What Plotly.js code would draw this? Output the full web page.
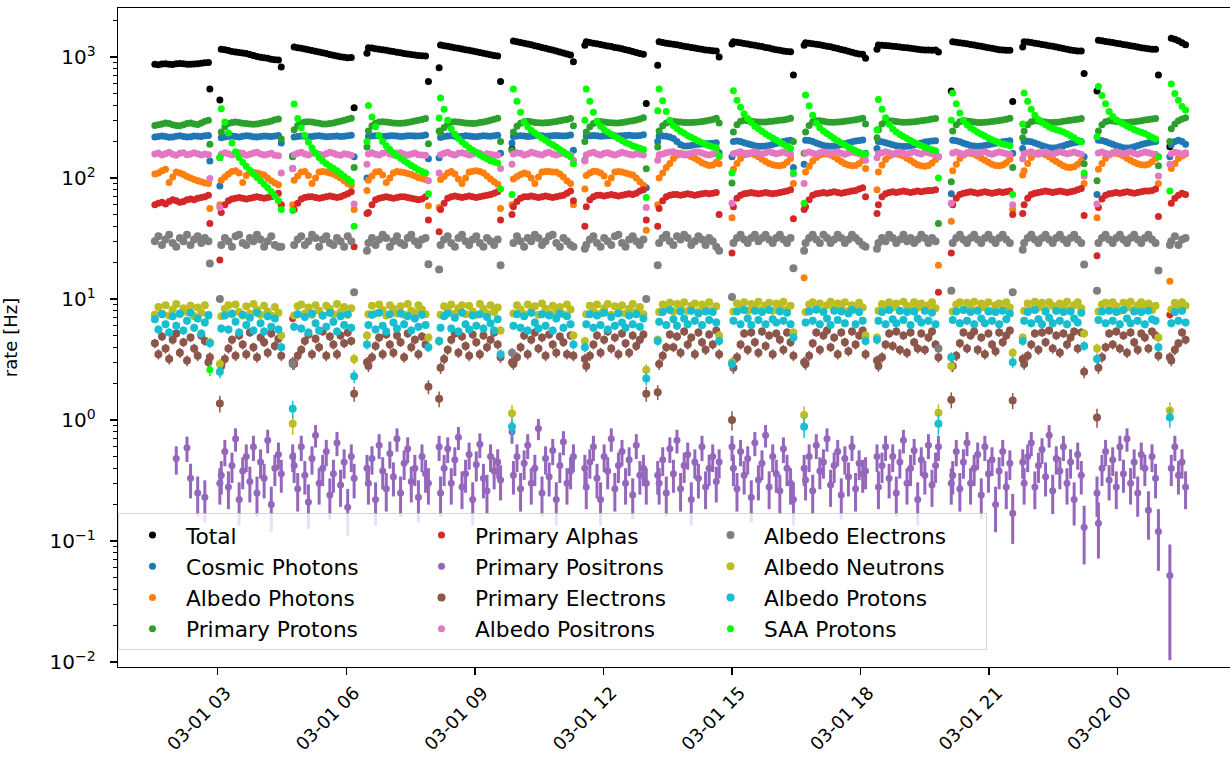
<!DOCTYPE html>
<html><head><meta charset="utf-8">
<script src="https://cdn.plot.ly/plotly-3.0.1.min.js"></script>
<style>html,body{margin:0;padding:0;background:#fff}#chart{width:1230px;height:759px}</style>
</head><body><div id="chart"></div>
<script>
// sample times, minutes after 03-01 00:00 (one line per orbit segment)
const minutes = [
92,97,102,107,112,117,122,127,132,137,142,147,152,157,162,167,169,
183,185,190,195,200,205,210,215,220,225,230,235,240,245,250,255,260,265,269,
285,287,292,297,302,307,312,317,322,327,332,337,342,347,352,357,362,367,371,
389,391,396,401,406,411,416,421,426,431,436,441,446,451,456,461,466,471,475,
490,492,497,502,507,512,517,522,527,532,537,542,547,552,557,562,567,572,576,
592,594,599,604,609,614,619,624,629,634,639,644,649,654,659,664,669,674,678,
694,696,701,706,711,716,721,726,731,736,741,746,751,756,761,766,771,776,780,
796,798,803,808,813,818,823,828,833,838,843,848,853,858,863,868,873,878,882,
900,902,907,912,917,922,927,932,937,942,947,952,957,962,967,972,977,982,986,
1001,1003,1008,1013,1018,1023,1028,1033,1038,1043,1048,1053,1058,1063,1068,1073,1078,1083,1087,
1103,1105,1110,1115,1120,1125,1130,1135,1140,1145,1150,1155,1160,1165,1170,1175,1180,1185,1189,
1207,1209,1214,1219,1224,1229,1234,1239,1244,1249,1254,1259,1264,1269,1274,1279,1284,1289,1293,
1307,1309,1314,1319,1324,1329,1334,1339,1344,1349,1354,1359,1364,1369,1374,1379,1384,1389,1393,
1411,1413,1418,1423,1428,1433,1438,1443,1448,1453,1458,1463,1468,1473,1478,1483,1488,1493,1497,
1513,1515,1520,1525,1530,1535];

const total = [
870,865,875,880,872,868,878,885,880,872,870,875,880,890,895,900,545,
441,1160,1150,1130,1110,1100,1090,1080,1070,1050,1030,1010,995,985,975,960,950,945,827,
152,1210,1195,1180,1165,1150,1130,1115,1100,1085,1070,1050,1035,1020,1005,995,985,990,380,
1073,1195,1185,1170,1160,1150,1135,1120,1110,1095,1085,1070,1060,1050,1040,1030,1025,1020,626,
816,1256,1240,1225,1210,1195,1180,1165,1150,1135,1120,1105,1090,1075,1060,1045,1030,1020,626,
174,1355,1340,1320,1300,1280,1260,1240,1220,1200,1180,1160,1140,1120,1100,1080,1060,1040,915,
1250,1338,1320,1300,1285,1270,1250,1235,1220,1200,1185,1170,1150,1130,1110,1090,1070,1052,412,
855,1338,1320,1300,1290,1275,1260,1245,1230,1215,1200,1185,1170,1160,1145,1135,1125,1120,1000,
1280,1338,1325,1310,1295,1280,1265,1250,1235,1220,1200,1185,1165,1150,1135,1120,1110,1105,710,
1250,1313,1300,1290,1275,1260,1245,1230,1215,1195,1175,1155,1135,1115,1095,1075,1060,1052,975,
1158,1256,1250,1245,1240,1230,1220,1210,1200,1190,1180,1170,1160,1150,1145,1140,1138,1140,1100,
524,1338,1325,1310,1300,1285,1270,1255,1240,1225,1210,1195,1180,1165,1150,1140,1135,1138,428,
1209,1338,1330,1315,1300,1285,1270,1255,1240,1225,1210,1195,1175,1160,1145,1130,1120,1120,729,
524,1373,1360,1345,1330,1315,1300,1285,1270,1255,1240,1225,1210,1195,1180,1170,1160,1158,710,
181,1427,1400,1360,1310,1260];

const cosmicPhotons = [
218,220,222,220,217,218,221,223,220,218,219,222,221,220,223,225,138,
86,215,218,220,222,220,218,221,224,222,219,218,220,222,221,220,222,225,195,
120,218,220,222,221,219,220,222,223,221,219,220,221,222,220,221,223,226,150,
100,220,222,224,222,220,221,223,224,222,220,221,223,224,222,222,224,227,144,
147,216,220,222,223,221,219,221,223,222,220,219,221,223,222,221,223,226,160,
195,220,222,224,222,220,221,223,225,223,221,222,224,225,223,222,224,227,170,
140,222,224,225,223,221,222,224,225,223,222,223,225,226,224,223,225,228,83,
200,222,222,221,218,212,200,188,184,184,186,188,190,191,192,193,194,196,162,
150,200,202,200,196,192,188,185,183,183,184,186,189,193,197,200,203,205,122,
130,205,204,200,195,190,186,184,183,184,186,189,192,196,199,202,204,206,160,
175,200,199,196,192,188,185,183,182,183,185,188,191,195,198,200,202,203,150,
74,205,203,199,194,190,186,184,183,184,186,188,191,194,197,199,201,203,160,
175,200,201,199,195,190,185,181,178,177,178,181,185,189,193,196,198,200,150,
73,205,204,200,195,190,185,181,178,177,178,181,185,189,193,196,198,200,150,
150,188,200,205,200,190];

const albedoPhotons = [
108,110,115,118,92,102,112,110,107,103,100,97,95,93,91,90,56,
60,96,102,108,113,115,110,92,105,112,111,110,108,106,100,95,91,88,60,
60,96,104,112,113,105,90,100,112,113,112,110,108,104,100,95,90,87,55,
79,96,104,112,113,106,92,100,110,113,112,111,109,107,104,101,99,97,59,
57,97,103,110,113,108,98,90,100,112,114,115,113,110,104,98,93,89,56,
60,98,103,107,110,108,100,90,102,112,113,113,112,112,108,102,95,90,60,
81,105,110,114,113,110,104,90,100,112,113,112,110,108,106,100,93,87,37,
60,100,110,122,132,145,155,160,158,155,150,146,140,134,130,127,128,135,131,
47,118,132,145,156,160,160,156,150,143,137,132,129,127,126,128,135,145,90,
15,112,125,138,148,155,158,158,155,150,143,137,131,128,126,127,132,140,120,
80,112,128,142,152,157,158,156,152,146,140,134,129,126,125,127,133,142,19,
44,115,130,145,155,160,160,157,152,146,140,135,130,127,126,128,134,143,55,
106,115,132,148,158,162,160,156,150,143,137,131,126,123,122,124,130,138,90,
47,118,132,146,156,160,160,157,152,146,140,135,131,129,128,130,136,145,90,
14,120,132,145,152,158];

const primaryProtons = [
272,275,280,285,282,276,272,270,275,282,285,280,277,285,295,300,190,
147,240,265,282,288,290,287,284,282,280,278,280,284,287,290,296,303,308,210,
150,250,272,285,290,292,290,286,283,280,280,282,285,290,295,300,306,312,122,
180,245,270,283,290,292,290,287,285,284,283,285,288,292,296,300,305,310,192,
245,235,262,280,290,292,290,288,285,283,282,284,287,291,295,300,306,312,200,
170,240,268,284,292,295,292,288,286,285,286,288,290,293,297,301,305,310,270,
200,240,265,282,290,293,291,288,286,285,285,287,290,294,298,302,308,315,119,
180,245,270,285,292,294,292,290,288,287,287,289,291,293,296,300,305,312,285,
91,240,275,295,300,298,295,292,290,290,291,293,295,298,300,302,306,312,200,
160,240,272,292,298,297,294,291,289,289,290,292,294,297,300,303,307,312,280,
215,250,280,294,298,296,293,290,289,289,290,292,294,297,300,303,307,310,42,
93,245,275,292,297,296,293,290,288,288,289,291,293,296,299,302,306,312,122,
215,245,275,292,297,296,293,290,288,288,289,291,294,297,300,303,306,310,131,
95,245,275,292,297,296,293,290,288,288,290,292,295,298,301,304,307,310,126,
200,255,280,297,308,315];

const primaryAlphas = [
60,62,63,61,64,66,65,63,64,66,67,66,68,69,70,72,42,
21,52,60,65,67,68,69,68,67,68,69,70,69,68,69,70,72,75,60,
6.9,55,62,67,69,70,70,69,68,69,70,71,70,69,70,72,74,77,27,
51,52,60,66,68,69,70,69,68,69,70,70,69,68,67,66,67,70,45,
36,55,62,68,70,71,70,69,70,71,70,69,70,71,72,73,75,77,45,
50,58,64,68,70,70,71,70,69,70,71,70,69,70,71,72,75,78,65,
40,58,66,70,72,72,71,72,73,72,71,72,73,74,73,75,78,80,45,
40,56,65,70,72,73,73,72,73,74,73,72,73,74,75,74,75,76,50,
24,58,68,72,74,75,76,75,74,75,76,75,74,75,76,77,78,80,46,
55,58,66,72,74,75,76,75,76,77,76,75,76,77,78,79,81,83,70,
51,60,70,74,76,77,76,77,78,77,76,77,78,77,78,79,79,80,11.4,
24,60,68,73,75,76,77,76,75,76,77,76,75,76,77,76,77,78,50,
51,60,68,73,75,76,77,78,77,76,77,78,77,76,77,78,80,82,49,
22.8,57,67,72,74,75,76,75,76,77,76,75,76,77,78,78,79,81,48,
7.4,62,68,72,75,73];

const primaryPositrons = [
null,null,null,null,null,null,0.48,null,null,0.59,0.33,null,0.25,null,0.23,null,null,
0.3,0.35,0.55,0.28,0.42,0.7,0.22,0.38,0.5,0.31,0.6,0.25,0.45,0.33,0.68,0.2,0.4,0.52,0.36,
0.5,0.42,0.27,0.6,0.35,0.21,0.48,0.75,0.3,0.4,0.55,0.24,0.36,0.65,0.29,0.45,0.19,0.5,0.33,
0.4,0.3,0.48,0.22,0.62,0.38,0.27,0.53,0.34,0.7,0.25,0.44,0.58,0.31,0.4,0.23,0.5,0.36,0.3,
0.6,0.25,0.4,0.58,0.3,0.47,0.72,0.28,0.36,0.52,0.22,0.43,0.63,0.33,0.26,0.5,0.38,0.45,0.32,
0.8,0.35,0.5,0.27,0.44,0.62,0.3,0.4,0.85,0.25,0.48,0.34,0.56,0.22,0.42,0.66,0.3,0.38,0.5,
0.4,0.28,0.45,0.6,0.33,0.22,0.5,0.38,0.7,0.27,0.42,0.55,0.3,0.47,0.24,0.62,0.35,0.4,0.3,
0.35,0.3,0.47,0.25,0.58,0.36,0.68,0.27,0.42,0.52,0.22,0.45,0.33,0.6,0.28,0.4,0.5,0.31,0.45,
0.6,0.4,0.27,0.55,0.35,0.48,0.23,0.65,0.32,0.44,0.75,0.28,0.5,0.36,0.26,0.58,0.4,0.3,0.22,
0.4,0.32,0.5,0.26,0.62,0.38,0.45,0.7,0.29,0.42,0.55,0.24,0.48,0.34,0.6,0.27,0.44,0.36,0.38,
0.5,0.28,0.42,0.6,0.33,0.5,0.25,0.45,0.68,0.3,0.4,0.56,0.22,0.47,0.35,0.62,0.29,0.42,0.6,
0.3,0.35,0.55,0.27,0.45,0.65,0.3,0.4,0.52,0.24,0.6,0.36,0.47,0.2,0.38,0.55,0.28,0.44,0.17,
0.45,0.3,0.5,0.65,0.28,0.42,0.57,0.34,0.75,0.26,0.48,0.38,0.6,0.3,0.45,0.22,0.52,0.35,0.13,
0.25,0.14,0.4,0.55,0.32,0.47,0.28,0.6,0.36,0.7,0.3,0.45,0.25,0.52,0.4,0.18,0.5,0.33,0.12,
0.052,0.4,0.6,0.35,0.45,0.28];

const primaryElectrons = [
4.3,3.5,4.9,3.9,3.2,4.6,5.2,3.6,4.4,3.1,4.8,3.9,3.4,5.0,4.5,3.0,3.3,
1.37,2.8,3.2,3.9,4.6,3.4,5.0,4.2,3.5,5.3,4.0,3.3,4.8,4.4,3.6,5.2,4.1,4.7,3.4,
3.0,2.9,3.4,3.8,4.5,5.1,3.5,4.7,4.0,5.4,3.4,4.9,4.2,3.5,5.0,4.3,5.3,4.5,1.65,
3.0,2.8,3.3,4.1,4.8,3.5,5.1,4.2,3.6,5.0,4.4,3.3,5.2,4.0,4.6,3.5,4.9,4.2,1.88,
1.5,2.7,3.2,3.8,4.6,5.2,3.6,4.9,4.1,3.4,5.1,4.4,3.5,5.0,4.0,4.6,5.3,4.2,3.3,
3.0,2.9,3.3,4.0,5.0,3.5,4.6,5.3,3.9,4.8,3.4,5.1,4.2,3.6,4.9,4.4,3.5,5.0,3.4,
3.2,2.8,3.4,4.2,5.0,3.6,4.6,5.4,3.9,4.8,3.5,5.2,4.3,3.6,5.0,4.1,4.6,5.1,1.65,
1.7,2.9,3.4,4.0,5.1,4.0,4.9,3.6,5.4,4.2,4.8,3.5,5.3,4.4,3.8,5.1,4.2,5.5,3.5,
1.0,2.7,3.3,4.2,5.2,3.8,5.3,4.4,3.6,5.4,4.1,5.0,3.5,5.2,4.6,3.8,5.3,4.4,3.4,
3.0,2.9,3.4,4.3,5.3,3.8,5.0,5.5,4.0,4.8,3.5,5.3,4.4,3.7,5.4,4.2,5.0,5.5,3.5,
3.1,2.8,3.3,4.2,5.2,4.1,5.4,3.8,5.0,3.6,5.3,4.4,3.9,5.2,3.8,4.8,5.4,4.2,3.3,
1.47,2.8,3.4,4.3,5.3,3.9,5.0,5.4,3.8,4.8,3.5,5.2,4.2,3.7,5.3,4.4,5.0,5.5,1.45,
3.2,2.9,3.4,4.2,5.2,3.8,5.3,4.4,5.5,3.9,5.0,3.6,5.2,4.2,4.8,5.4,3.9,5.3,2.5,
1.05,2.7,3.3,4.0,5.2,4.2,5.4,3.9,5.0,3.6,5.3,4.4,3.8,5.2,4.8,3.9,5.4,5.0,3.4,
3.3,3.1,3.8,4.3,5.3,4.6];

const albedoPositrons = [
158,161,155,159,163,157,154,160,162,156,158,162,159,155,158,156,99,
57,157,162,159,155,158,162,160,154,157,161,163,158,155,157,160,154,153,110,
120,156,160,163,158,155,160,162,157,155,159,163,160,156,154,159,157,154,61,
130,158,162,157,155,160,163,158,155,160,162,157,155,158,161,156,155,154,95,
110,156,160,163,158,155,160,162,159,155,158,163,160,155,159,157,155,154,120,
130,158,162,160,155,158,163,160,157,155,160,163,158,155,159,161,156,155,140,
138,156,160,163,158,155,160,162,158,155,159,163,160,157,155,159,157,155,57,
140,156,158,162,164,165,161,157,155,158,160,163,164,161,157,155,158,161,150,
62,159,162,165,160,157,162,165,160,157,162,165,162,159,161,164,160,157,108,
90,161,164,160,157,162,165,162,159,162,165,160,157,161,164,162,159,157,140,
147,159,162,165,162,158,161,164,160,157,162,165,161,158,164,162,159,157,150,
62,161,164,160,157,162,165,162,159,162,165,160,157,161,164,162,159,157,60,
144,159,162,165,160,157,162,165,160,157,162,165,162,159,161,164,160,157,104,
61,161,164,160,157,162,165,162,159,162,165,160,157,161,164,162,159,157,104,
130,159,163,161,158,162];

const albedoElectrons = [
30,33,28,31,34,29,27,32,30,34,28,31,33,29,32,30,19.7,
10,28,32,30,27,33,34,29,28,32,30,34,31,27,30,33,28,27,27,
2.9,28,31,33,28,30,34,32,27,31,33,29,28,32,30,27,33,30,11.4,
25,29,32,28,31,34,32,27,30,33,29,28,32,34,30,28,31,32,19.4,
17.5,28,31,33,29,27,32,34,30,28,31,33,29,27,32,30,28,31,19,
3.6,29,33,30,27,32,30,34,32,28,30,33,34,29,27,32,30,28,27,
26,28,31,33,29,27,32,30,28,33,34,29,27,31,33,30,28,31,10,
19,29,32,34,30,28,33,31,34,32,28,30,33,31,28,32,30,27,25,
10.4,29,32,34,31,29,32,34,30,32,34,31,29,32,34,31,29,32,18,
25,29,32,34,31,29,34,32,29,31,34,32,29,31,34,32,30,28,27,
26,29,32,30,34,32,29,31,34,30,32,29,31,34,32,29,32,30,3.9,
11.7,29,32,34,31,29,32,34,31,29,32,34,31,29,32,34,31,29,11.4,
25.5,29,32,34,31,29,32,34,31,29,32,34,31,29,32,34,31,29,19.3,
11.7,29,32,34,31,29,32,34,31,29,32,34,31,29,32,34,31,29,17.2,
28,30,33,28,31,32];

const albedoNeutrons = [
7.4,8.6,7.6,8.9,7.3,8.2,9.1,7.5,8.4,7.8,8.8,7.2,8.5,7.7,8.9,7.4,4.4,
2.9,7.2,8.3,8.9,7.5,9.0,7.8,7.3,8.7,7.6,9.1,8.2,7.4,8.8,7.9,7.3,8.6,7.7,5.0,
0.93,7.3,8.7,9.0,7.6,8.5,7.4,8.9,8.0,7.3,8.8,8.3,7.5,9.1,7.8,8.6,7.4,8.4,3.2,
5.0,7.5,8.8,7.6,9.0,8.1,7.3,8.9,8.3,7.6,8.7,7.4,9.1,8.0,7.7,8.9,8.2,7.5,4.8,
4.5,7.4,8.7,8.1,9.0,7.6,8.4,8.9,7.5,8.8,7.9,7.4,9.1,8.3,7.6,8.9,7.8,8.5,5.5,
1.14,7.6,8.9,8.2,7.5,9.0,7.9,8.7,7.4,9.2,8.3,7.6,8.8,7.8,8.6,7.5,9.0,8.2,5.0,
4.5,7.5,8.8,7.9,9.0,7.6,8.4,9.1,7.4,8.7,8.0,8.9,7.6,8.3,9.1,7.8,8.6,7.5,2.6,
4.6,7.8,9.0,8.3,9.3,7.9,9.1,8.5,9.4,8.0,8.8,9.2,7.9,9.0,8.4,9.4,8.1,8.7,5.0,
3.0,7.9,9.2,8.4,9.4,8.0,9.1,8.6,9.5,8.2,8.9,9.3,8.0,9.2,8.5,9.5,8.2,8.8,5.3,
1.1,7.8,9.0,9.4,8.2,9.2,8.0,8.9,9.5,8.3,9.2,8.5,9.4,8.0,8.9,8.2,9.3,8.5,5.0,
4.8,8.0,9.1,8.3,9.4,8.5,9.2,8.0,9.5,8.8,8.2,9.4,8.5,9.2,8.1,8.9,9.4,8.4,1.15,
2.8,7.9,9.0,9.4,8.2,9.3,8.6,9.5,8.1,9.2,8.5,9.4,8.0,8.9,9.2,8.2,9.4,8.5,3.6,
4.8,8.0,9.2,8.3,9.5,8.5,9.3,8.2,9.4,8.8,8.0,9.2,8.5,9.5,8.2,8.9,9.4,8.4,5.2,
3.9,7.9,9.0,9.3,8.2,9.4,8.7,8.0,9.3,8.5,9.5,8.2,8.9,9.4,8.4,9.2,8.1,8.8,4.8,
1.2,8.2,9.3,8.5,9.4,8.8];

const albedoProtons = [
6.8,5.6,7.5,6.2,5.3,7.2,6.0,7.6,5.5,6.6,7.7,5.8,6.9,5.2,6.4,7.3,4.3,
2.5,5.7,7.3,5.6,7.6,6.5,5.3,7.4,6.1,7.0,5.5,7.7,6.3,5.4,7.2,5.9,6.9,5.6,4.0,
1.24,5.9,7.5,5.7,7.1,5.3,7.6,6.3,5.5,7.3,5.9,7.7,6.5,5.4,7.2,6.1,7.5,5.8,2.3,
4.2,6.1,7.4,5.6,7.7,6.0,5.4,7.5,6.4,5.7,7.6,6.2,7.2,5.5,6.9,5.9,7.4,6.1,4.0,
4.5,5.8,7.2,7.6,5.7,7.0,5.4,7.7,6.2,5.6,7.3,6.0,7.5,5.7,7.1,6.3,5.5,6.8,3.5,
0.88,6.0,7.5,5.8,7.2,5.5,7.7,6.4,5.7,7.5,6.0,7.3,5.5,6.9,7.6,5.8,7.2,6.2,4.2,
4.0,6.2,7.5,5.8,7.3,6.1,7.7,5.6,7.1,6.0,7.6,6.4,5.8,7.3,6.2,7.5,5.9,6.9,2.2,
4.5,6.5,7.8,6.1,8.1,6.8,6.0,7.9,6.9,6.2,8.0,6.6,7.6,6.1,7.9,6.7,7.8,6.4,4.5,
2.9,6.6,7.9,6.2,8.1,6.9,6.1,8.0,6.7,7.8,6.2,8.1,6.8,6.4,7.9,6.6,7.7,6.2,4.8,
0.88,6.4,7.9,6.6,8.2,6.2,7.8,6.9,6.1,8.0,6.7,7.9,6.3,7.6,8.1,6.2,7.8,6.6,4.5,
4.6,6.6,7.8,6.2,8.1,6.8,6.3,8.0,6.7,7.8,6.1,7.9,6.9,6.4,8.0,6.6,7.7,6.2,0.93,
3.3,6.7,7.9,6.3,8.1,6.6,7.8,6.2,8.0,6.9,6.3,7.9,6.6,7.8,6.2,8.0,6.8,7.6,3.0,
4.5,6.6,7.8,6.3,8.1,6.8,6.2,7.9,7.0,6.3,8.0,6.6,7.8,6.2,7.9,6.9,6.4,7.7,4.1,
3.2,6.7,7.9,6.3,8.0,6.6,7.8,6.2,8.1,6.9,6.3,7.9,6.6,7.8,6.2,8.0,6.8,6.6,4.0,
1.05,6.3,7.8,6.6,8.0,6.4];

const saaProtons = [
null,null,null,null,null,null,null,null,null,null,null,null,null,null,null,null,2.6,
148,373,290,235,195,165,148,135,125,116,108,101,95,89,83,77,71,65,55,
54,409,310,260,225,198,178,160,148,138,131,125,120,115,109,103,98,93,40,
200,398,320,265,225,200,185,172,162,153,146,139,133,127,122,117,113,110,74,
314,459,370,300,255,230,212,199,188,178,170,162,155,149,144,139,136,133,81,
73,545,430,350,290,265,248,235,224,214,205,196,188,180,172,165,158,150,131,
300,545,430,350,295,268,252,240,230,221,212,204,197,191,185,180,176,172,69,
359,545,435,355,300,272,256,244,234,225,217,209,202,196,190,185,181,178,153,
110,525,440,385,340,310,287,268,255,243,232,222,214,206,198,190,183,176,110,
62,485,395,330,285,260,245,233,222,212,203,195,187,180,174,168,163,158,158,
250,445,370,315,278,255,240,229,220,212,204,197,191,185,180,175,171,168,100,
300,505,410,345,300,275,260,249,239,230,222,214,207,201,196,191,188,185,73,
280,505,430,370,330,305,288,275,264,256,250,246,240,232,224,215,205,198,110,
219,570,480,410,355,322,303,290,279,269,260,252,245,239,233,225,217,210,150,
78,598,500,440,390,365];

const seriesNames = ['Total','Cosmic Photons','Albedo Photons','Primary Protons','Primary Alphas',
  'Primary Positrons','Primary Electrons','Albedo Positrons','Albedo Electrons','Albedo Neutrons',
  'Albedo Protons','SAA Protons'];
const seriesValues = [total, cosmicPhotons, albedoPhotons, primaryProtons, primaryAlphas,
  primaryPositrons, primaryElectrons, albedoPositrons, albedoElectrons, albedoNeutrons,
  albedoProtons, saaProtons];
const seriesColors = ['#000000','#1f77b4','#ff7f0e','#2ca02c','#d62728','#9467bd','#8c564b',
  '#e377c2','#7f7f7f','#bcbd22','#17becf','#00ff00'];
const tickLabels = ['10<sup>\u22122</sup>','10<sup>\u22121</sup>','10<sup>0</sup>','10<sup>1</sup>','10<sup>2</sup>','10<sup>3</sup>'];
const tickValues = [0.01,0.1,1,10,100,1000];
const binSeconds = 30;  // exposure per point, for Poisson error bars
const noisy = ['Primary Electrons','Albedo Electrons','Albedo Neutrons','Albedo Protons'];

const base = Date.UTC(2024, 2, 1, 0, 0, 0);
function toDate(m) { return new Date(base + m * 60000).toISOString().slice(0, 19).replace('T', ' '); }
const xs = minutes.map(toDate);

const traces = seriesNames.map((name, i) => {
  const col = Math.floor(i / 4), row = i % 4;
  const vals = seriesValues[i];
  const isPos = name === 'Primary Positrons';
  return {
    type: 'scatter', mode: 'markers', name: name,
    x: xs, y: vals,
    legendrank: row * 3 + col + 1,
    marker: {color: seriesColors[i], size: noisy.includes(name) ? 8 : 7},
    error_y: {type: 'data', visible: true, width: 0, thickness: isPos ? 3 : 1.5, color: seriesColors[i],
      array: vals.map(v => v == null ? null : Math.sqrt(v / binSeconds))},
    cliponaxis: true
  };
});

const minorVals = [];
for (let e = -3; e <= 3; e++) for (let m = 2; m <= 9; m++) minorVals.push(m * Math.pow(10, e));

const layout = {
  width: 1230, height: 759,
  margin: {l: 118, r: 0, t: 8, b: 92},
  paper_bgcolor: '#ffffff', plot_bgcolor: '#ffffff',
  font: {family: 'DejaVu Sans', size: 18, color: '#000000'},
  showlegend: true,
  legend: {
    orientation: 'h', x: 0.0, xanchor: 'left', y: 0.233, yanchor: 'top',
    entrywidth: 217, entrywidthmode: 'pixels', itemwidth: 57,
    bgcolor: 'rgba(255,255,255,0.8)', bordercolor: 'rgba(204,204,204,0.8)', borderwidth: 1,
    font: {family: 'DejaVu Sans', size: 21.7, color: '#000000'},
    traceorder: 'normal'
  },
  xaxis: {
    type: 'date',
    range: ['2024-03-01 00:40:25', '2024-03-02 02:37:12'],
    tickmode: 'linear', tick0: '2024-03-01 03:00:00', dtick: 3 * 3600 * 1000,
    tickformat: '%m-%d %H', tickangle: -45, ticklabelshift: 8,
    ticks: 'outside', ticklen: 7, tickwidth: 1.3, tickcolor: '#000',
    showline: true, linecolor: '#000', linewidth: 1.3, mirror: true,
    showgrid: false, zeroline: false,
    tickfont: {family: 'DejaVu Sans', size: 18, color: '#000'}
  },
  yaxis: {
    type: 'log', range: [-2.041, 3.405],
    tickmode: 'array', tickvals: tickValues, ticktext: tickLabels,
    ticks: 'outside', ticklen: 7, tickwidth: 1.3, tickcolor: '#000', ticklabelstandoff: 10,
    minor: {tickmode: 'array', tickvals: minorVals, ticks: 'outside', ticklen: 4, tickwidth: 1, tickcolor: '#000', showgrid: false},
    showline: true, linecolor: '#000', linewidth: 1.3,
    showgrid: false, zeroline: false,
    tickfont: {family: 'DejaVu Sans', size: 20, color: '#000'},
    title: {text: 'rate [Hz]', font: {family: 'DejaVu Sans', size: 18, color: '#000'}, standoff: 28}
  }
};

Plotly.newPlot('chart', traces, layout, {displayModeBar: false, staticPlot: true});
</script>
</body></html>
